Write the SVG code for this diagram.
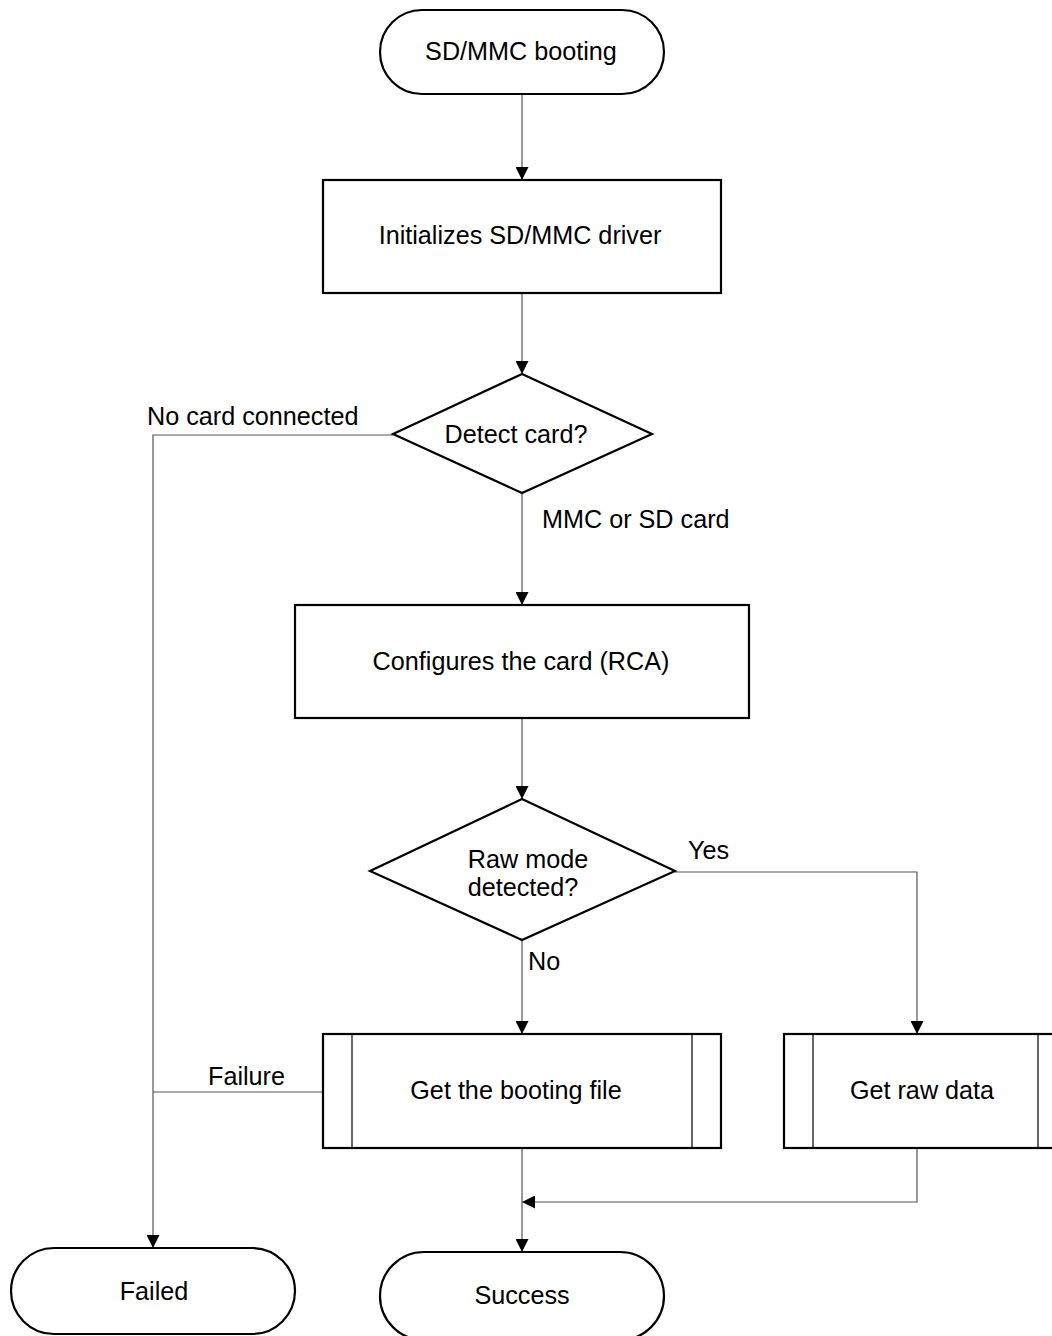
<svg xmlns="http://www.w3.org/2000/svg" width="1052" height="1336" viewBox="0 0 1052 1336">
<defs>
<style>
.n{fill:#fff;stroke:#000;stroke-width:2.2}
.s{fill:none;stroke:#000;stroke-width:1.2}
.t{font-family:"Liberation Sans",Arial,sans-serif;font-size:25.2px;fill:#000}
.m{text-anchor:middle}
.c{fill:none;stroke:#555;stroke-width:1.2}
</style>
<marker id="a" viewBox="0 0 12 12" refX="12" refY="6" markerWidth="13" markerHeight="13" markerUnits="userSpaceOnUse" orient="auto">
<path d="M0,0 L12,6 L0,12 z" fill="#000"/>
</marker>
</defs>
<rect width="1052" height="1336" fill="#fff"/>
<g id="connectors">
<line class="c" x1="522" y1="95" x2="522" y2="180" marker-end="url(#a)"/>
<line class="c" x1="522" y1="294" x2="522" y2="374" marker-end="url(#a)"/>
<line class="c" x1="522" y1="494" x2="522" y2="605" marker-end="url(#a)"/>
<line class="c" x1="522" y1="719" x2="522" y2="799" marker-end="url(#a)"/>
<line class="c" x1="522" y1="940" x2="522" y2="1034" marker-end="url(#a)"/>
<polyline class="c" points="393,435 153,435 153,1248" marker-end="url(#a)"/>
<line class="c" x1="323" y1="1092" x2="153" y2="1092"/>
<polyline class="c" points="675,872 917,872 917,1034" marker-end="url(#a)"/>
<polyline class="c" points="917,1149 917,1202 522,1202" marker-end="url(#a)"/>
<line class="c" x1="522" y1="1149" x2="522" y2="1252" marker-end="url(#a)"/>
<text class="t" x="147" y="425">No card connected</text>
<text class="t" x="542" y="528">MMC or SD card</text>
<text class="t" x="688" y="859">Yes</text>
<text class="t" x="528" y="970">No</text>
<text class="t" x="208" y="1085">Failure</text>
</g>
<g id="start">
<rect class="n" x="380" y="10" width="284" height="84" rx="42" ry="42"/>
<text class="t m" x="521" y="60">SD/MMC booting</text>
</g>
<g id="init">
<rect class="n" x="323" y="180" width="398" height="113"/>
<text class="t m" x="520" y="244">Initializes SD/MMC driver</text>
</g>
<g id="detect">
<polygon class="n" points="522,374 652,434 522,493 393,434"/>
<text class="t m" x="516" y="443">Detect card?</text>
</g>
<g id="configure">
<rect class="n" x="295" y="605" width="454" height="113"/>
<text class="t m" x="521" y="670">Configures the card (RCA)</text>
</g>
<g id="raw">
<polygon class="n" points="522,799 675,871 522,940 370,871"/>
<text class="t m" x="528" y="868">Raw mode</text>
<text class="t m" x="523" y="896">detected?</text>
</g>
<g id="bootfile">
<rect class="n" x="323" y="1034" width="398" height="114"/>
<line class="s" x1="352" y1="1034" x2="352" y2="1148"/>
<line class="s" x1="692" y1="1034" x2="692" y2="1148"/>
<text class="t m" x="516" y="1099">Get the booting file</text>
</g>
<g id="rawdata">
<rect class="n" x="784" y="1034" width="283" height="114"/>
<line class="s" x1="813" y1="1034" x2="813" y2="1148"/>
<line class="s" x1="1038" y1="1034" x2="1038" y2="1148"/>
<text class="t m" x="922" y="1099">Get raw data</text>
</g>
<g id="failed">
<rect class="n" x="11" y="1248" width="284" height="86" rx="43" ry="43"/>
<text class="t m" x="154" y="1300">Failed</text>
</g>
<g id="success">
<rect class="n" x="380" y="1252" width="284" height="88" rx="44" ry="44"/>
<text class="t m" x="522" y="1304">Success</text>
</g>
</svg>
